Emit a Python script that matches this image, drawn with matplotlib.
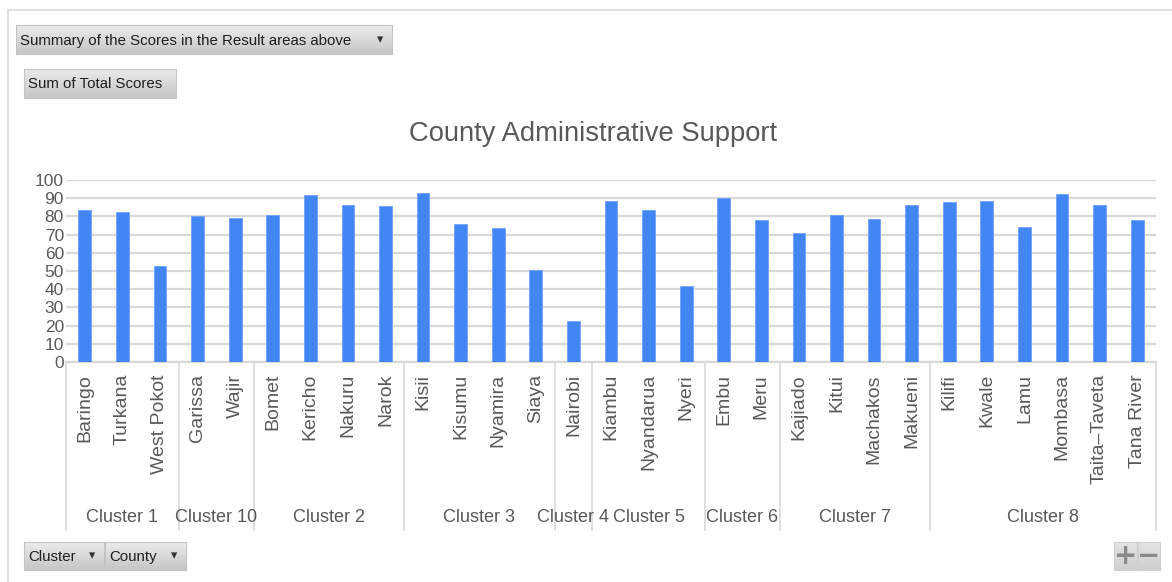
import numpy as np
import matplotlib
matplotlib.use('Agg')
import matplotlib.pyplot as plt
from matplotlib.transforms import blended_transform_factory
from matplotlib.lines import Line2D

counties = ['Baringo', 'Turkana', 'West Pokot', 'Garissa', 'Wajir', 'Bomet', 'Kericho',
            'Nakuru', 'Narok', 'Kisii', 'Kisumu', 'Nyamira', 'Siaya', 'Nairobi', 'Kiambu',
            'Nyandarua', 'Nyeri', 'Embu', 'Meru', 'Kajiado', 'Kitui', 'Machakos', 'Makueni',
            'Kilifi', 'Kwale', 'Lamu', 'Mombasa', 'Taita\u2013Taveta', 'Tana River']
scores = [83.5, 82.5, 53, 80, 79, 80.7, 91.8, 86.5, 85.8, 92.8, 76, 73.8, 50.8, 22.5, 88.7,
          83.5, 41.5, 90, 78, 70.8, 80.5, 78.3, 86.5, 88, 88.7, 74.3, 92.3, 86.5, 78]
clusters = ['Cluster 1', 'Cluster 10', 'Cluster 2', 'Cluster 3', 'Cluster 4', 'Cluster 5',
            'Cluster 6', 'Cluster 7', 'Cluster 8']
cluster_sizes = [3, 2, 4, 4, 1, 3, 2, 4, 6]

W, H = 1172, 582
GREY = '#595959'
FONT = ['Liberation Sans', 'DejaVu Sans']

plt.rcParams['font.family'] = FONT

fig = plt.figure(figsize=(W / 100, H / 100), dpi=100)

def fx(x):
    return x / W

def fy(y):
    return 1 - y / H

# outer frame of the pivot chart area
fig.add_artist(Line2D([fx(8), fx(8)], [fy(10), fy(582)], color='#d9d9d9', lw=1.2))
fig.add_artist(Line2D([fx(8), fx(1172)], [fy(10), fy(10)], color='#d9d9d9', lw=1.2))

ax = fig.add_axes([fx(66), fy(362), fx(1156) - fx(66), (362 - 180) / H])
x = np.arange(len(counties))
ax.bar(x, scores, width=0.34, color='#4285f4', edgecolor='#6fa3f7', linewidth=0.6, zorder=3)
ax.set_xlim(-0.5, len(counties) - 0.5)
ax.set_ylim(0, 100)
ax.set_yticks(np.arange(0, 101, 10))
ax.yaxis.grid(True, color='#d9d9d9', lw=1.6, zorder=0)
ax.tick_params(axis='y', length=0, labelsize=12.5, labelcolor=GREY, pad=1.5)
ax.set_xticks([])
for s in ['top', 'right', 'left']:
    ax.spines[s].set_visible(False)
ax.spines['bottom'].set_color('#d9d9d9')
ax.spines['bottom'].set_linewidth(1.6)

fig.text(fx(593), fy(134), 'County Administrative Support', fontsize=19.7, color=GREY,
         ha='center', va='center')

trans = blended_transform_factory(ax.transData, fig.transFigure)
for i, name in enumerate(counties):
    ax.text(i, fy(374), name, rotation=90, ha='center', va='top', fontsize=14,
            color=GREY, transform=trans, clip_on=False)

# cluster separators and labels
bounds = np.concatenate([[0], np.cumsum(cluster_sizes)]) - 0.5
for b in bounds:
    ax.add_artist(Line2D([b, b], [fy(362), fy(530)], color='#d9d9d9', lw=1.2,
                         transform=trans, clip_on=False))
for c, lo, hi in zip(clusters, bounds[:-1], bounds[1:]):
    ax.text((lo + hi) / 2, fy(517), c, ha='center', va='center', fontsize=13,
            color=GREY, transform=trans, clip_on=False)

# pivot field buttons
grad = np.linspace(0, 1, 50).reshape(-1, 1)
btn_cmap = matplotlib.colors.LinearSegmentedColormap.from_list('b', ['#ececec', '#c6c6c6'])

def button(x0, y0, x1, y1, label, arrow=False, size=10.8):
    bax = fig.add_axes([fx(x0), fy(y1), fx(x1) - fx(x0), (y1 - y0) / H])
    bax.imshow(grad, aspect='auto', cmap=btn_cmap, extent=[0, 1, 0, 1], origin='upper')
    bax.set_xticks([])
    bax.set_yticks([])
    for s in bax.spines.values():
        s.set_color('#c4c4c4')
        s.set_linewidth(0.8)
    fig.text(fx(x0 + 4), fy((y0 + y1) / 2 + 1), label, fontsize=size, color='#1f1f1f',
             ha='left', va='center')
    if arrow:
        fig.text(fx(x1 - 12), fy((y0 + y1) / 2), '\u25BE', fontsize=9, color='#333333',
                 ha='center', va='center', family=['DejaVu Sans'])

button(16, 25, 392, 54, 'Summary of the Scores in the Result areas above', arrow=True)
button(24, 69, 176, 98, 'Sum of Total Scores')
button(24, 542, 104, 570, 'Cluster', arrow=True)
button(105, 542, 186, 570, 'County', arrow=True)

pm_cmap = matplotlib.colors.LinearSegmentedColormap.from_list('p', ['#e4e4e4', '#cfcfcf'])
for (x0, x1, sym) in [(1114, 1137, '+'), (1138, 1160, '\u2212')]:
    bax = fig.add_axes([fx(x0), fy(570), fx(x1) - fx(x0), 28 / H])
    bax.imshow(grad, aspect='auto', cmap=pm_cmap, extent=[0, 1, 0, 1])
    bax.set_xticks([])
    bax.set_yticks([])
    for s in bax.spines.values():
        s.set_color('#d0d0d0')
    bax.text(0.5, 0.5, sym, fontsize=20, weight='bold', color='#8a8a8a', ha='center',
             va='center', transform=bax.transAxes, family=['DejaVu Sans'])

fig.savefig('out.png', dpi=100)
